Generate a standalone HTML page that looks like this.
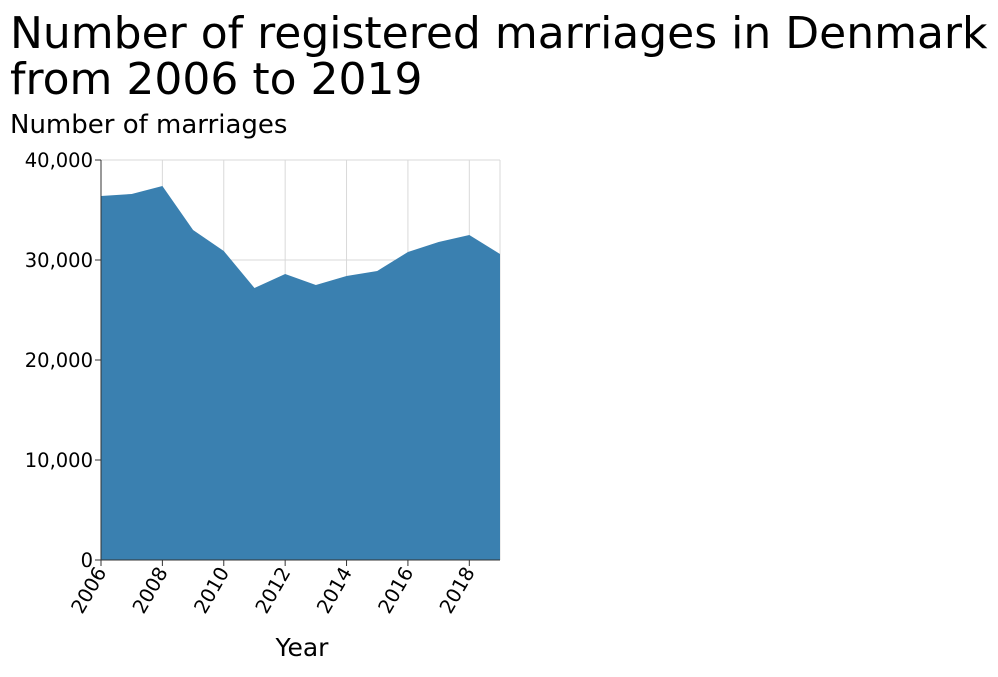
<!DOCTYPE html>
<html><head><meta charset="utf-8"><style>
body{margin:0;background:#fff;font-family:"Liberation Sans",sans-serif}
svg text{font-family:"DejaVu Sans","Liberation Sans",sans-serif;fill:#000}
</style></head><body>
<svg width="998" height="672" xmlns="http://www.w3.org/2000/svg">
<text x="10" y="48" font-size="44">Number of registered marriages in Denmark</text>
<text x="10" y="94" font-size="44">from 2006 to 2019</text>
<text x="10" y="133" font-size="26">Number of marriages</text>
<text x="302" y="656" font-size="25" text-anchor="middle">Year</text>
<g id="grid"></g><g id="area"></g><g id="axes"></g>
</svg>
<script>
const years=[2006,2007,2008,2009,2010,2011,2012,2013,2014,2015,2016,2017,2018,2019];
const marriages=[36400,36600,37400,33000,30900,27200,28600,27500,28400,28900,30800,31800,32500,30600];
const yTicks=[0,10000,20000,30000,40000];
const yTickLabels=["0","10,000","20,000","30,000","40,000"];
const xTicks=[2006,2008,2010,2012,2014,2016,2018];
const X0=101,X1=500,Y0=560,Y1=160,NS="http://www.w3.org/2000/svg";
const xs=v=>X0+(v-2006)/(2019-2006)*(X1-X0);
const ys=v=>Y0-(v/40000)*(Y0-Y1);
function mk(t,a,p){const e=document.createElementNS(NS,t);for(const k in a)e.setAttribute(k,a[k]);p.appendChild(e);return e;}
const g=document.getElementById('grid'),ar=document.getElementById('area'),ax=document.getElementById('axes');
yTicks.forEach((v,i)=>{
 const l=mk('line',{x1:X0,x2:X1,y1:ys(v),y2:ys(v),stroke:'#d9d9d9'},g);
 
 
 const tk=mk('line',{x1:X0-6,x2:X0,y1:ys(v),y2:ys(v),stroke:'#333'},ax);
 
 
 const t=mk('text',{x:X0-8,y:ys(v)+7,'font-size':19.5,'text-anchor':'end'},ax);t.textContent=yTickLabels[i];
 
 
});
xTicks.forEach(v=>{
 const l=mk('line',{x1:xs(v),x2:xs(v),y1:Y1,y2:Y0,stroke:'#d9d9d9'},g);
 
 
 const tk=mk('line',{x1:xs(v),x2:xs(v),y1:Y0,y2:Y0+6,stroke:'#333'},ax);
 
 
 const t=mk('text',{x:xs(v)+6,y:Y0+12,'font-size':19.5,'text-anchor':'end',transform:`rotate(-60 ${xs(v)+6} ${Y0+12})`},ax);t.textContent=v;
 
 
});
const rl=mk('line',{x1:X1,x2:X1,y1:Y1,y2:Y0,stroke:'#d9d9d9'},g);


let d=`M${xs(years[0])},${Y0}`;
years.forEach((y,i)=>d+=` L${xs(y)},${ys(marriages[i])}`);
d+=` L${xs(years[years.length-1])},${Y0} Z`;
const p=mk('path',{d:d,fill:'#3a80b0'},ar);


const ya=mk('line',{x1:X0,x2:X0,y1:Y1,y2:Y0,stroke:'#333'},ax);


const xa=mk('line',{x1:X0,x2:X1,y1:Y0,y2:Y0,stroke:'#333'},ax);


</script>
</body></html>
